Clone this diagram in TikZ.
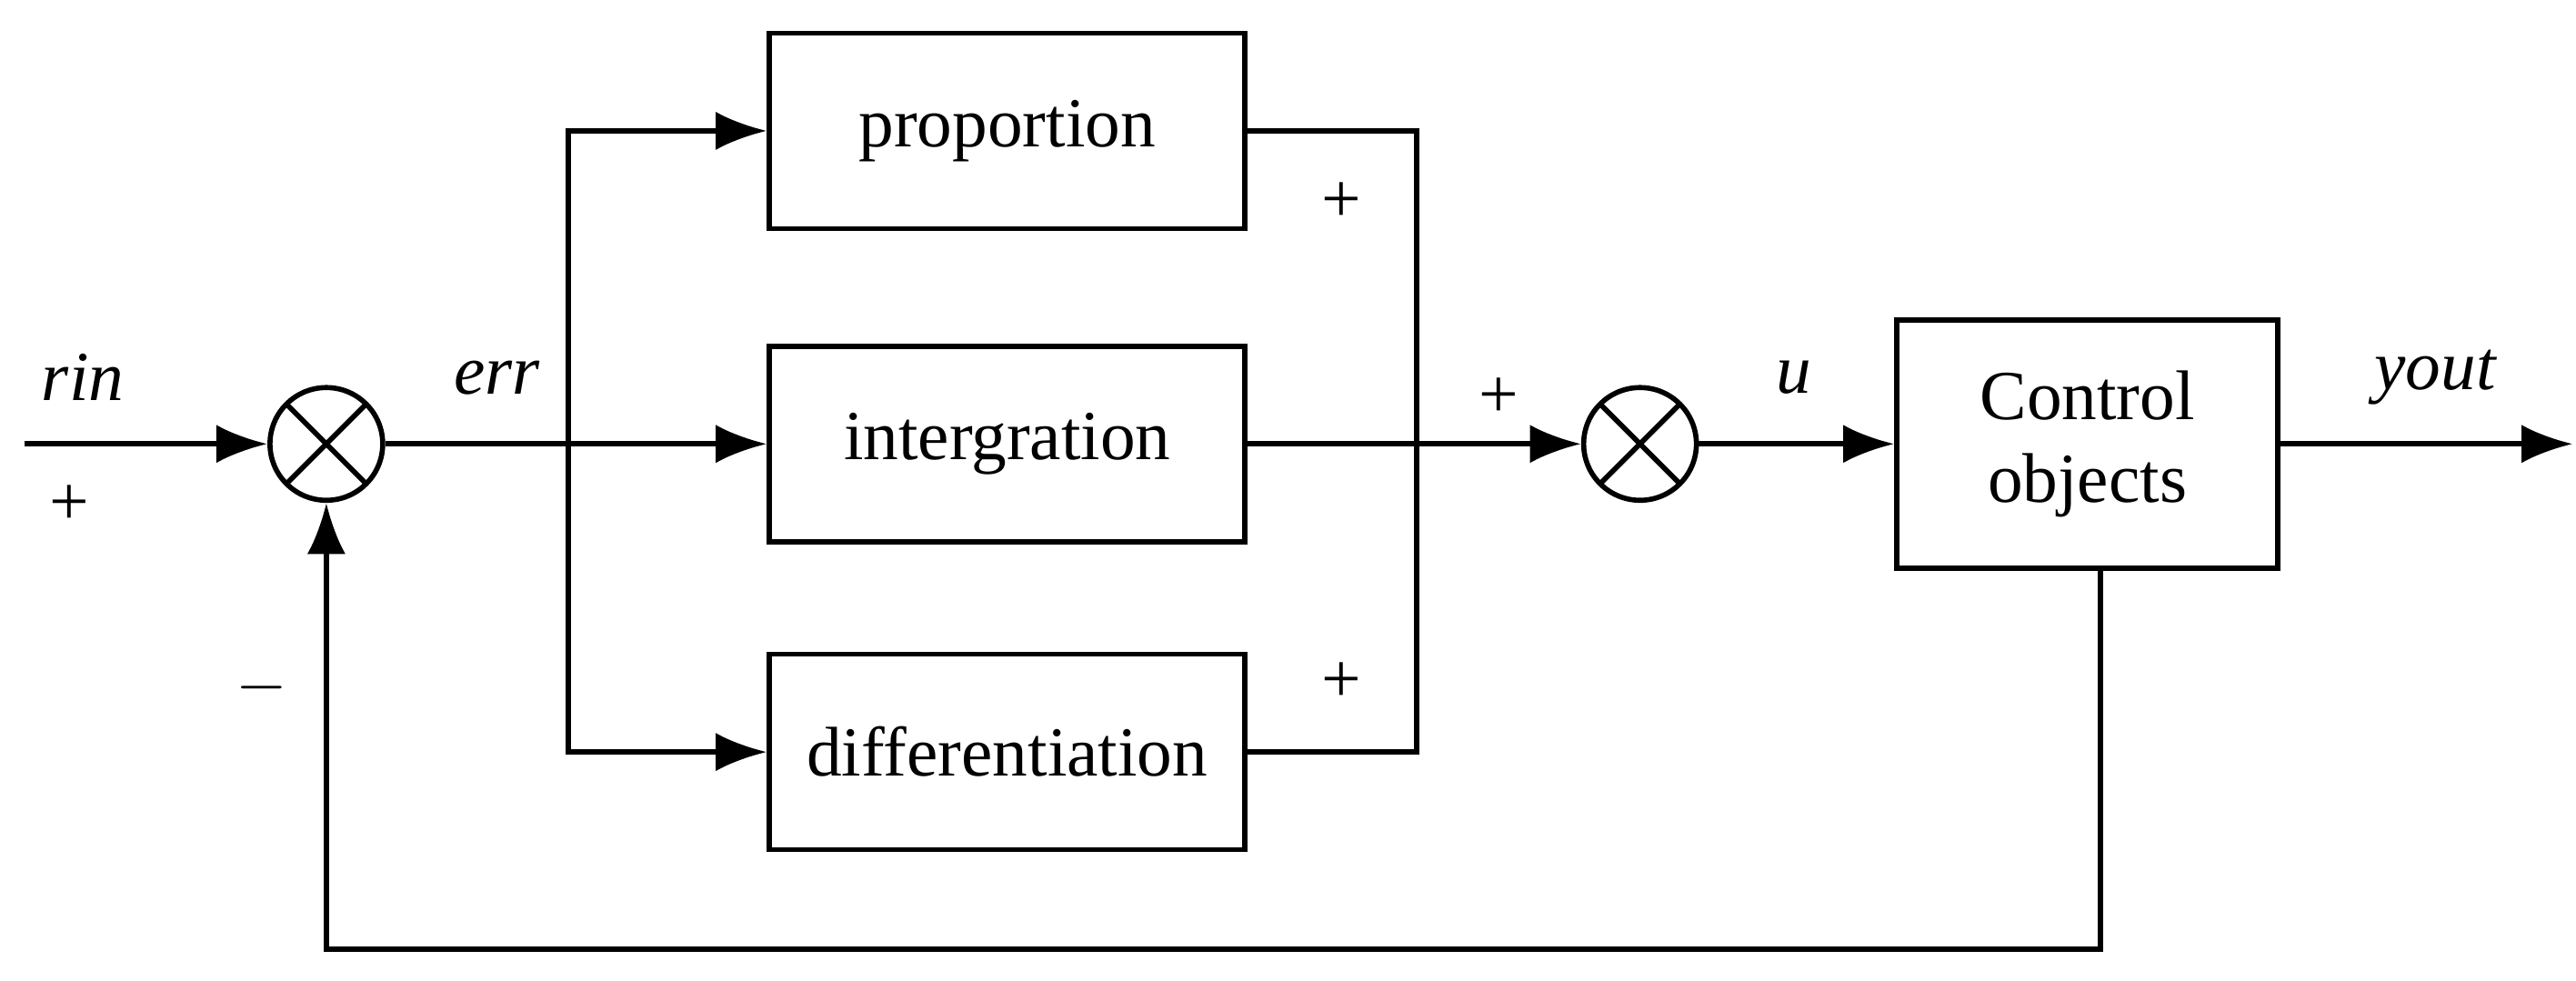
\documentclass[tikz,border=0pt]{standalone}
\usepackage{fontspec}
\setmainfont{Liberation Serif}
\usetikzlibrary{arrows.meta}
\begin{document}
\begin{tikzpicture}[x=0.01822cm,y=-0.01822cm,
  line width=1.6pt, font=\fontsize{22}{26}\selectfont,
  arr/.style={-{Latex[length=16pt,width=12pt]}},
  blk/.style={draw,minimum width=5.23cm,minimum height=2.15cm,inner sep=0pt,align=center},
  sum/.style={draw,circle,minimum size=1.24cm,inner sep=0pt,path picture={
     \draw ([shift={(-45:0.62cm)}]path picture bounding box.center) -- ([shift={(135:0.62cm)}]path picture bounding box.center);
     \draw ([shift={(45:0.62cm)}]path picture bounding box.center) -- ([shift={(-135:0.62cm)}]path picture bounding box.center);}},
  lbl/.style={inner sep=0pt}]
\useasboundingbox (0,0) rectangle (1555,592);
\node[sum] (s1) at (197,268) {};
\node[sum] (s2) at (990,268) {};
\node[blk] (p) at (608,79) {proportion};
\node[blk] (i) at (608,268) {intergration};
\node[blk] (d) at (608,454) {differentiation};
\node[draw,minimum width=4.19cm,minimum height=2.73cm,align=center,inner sep=0pt] (c) at (1260,268) {Control\\objects};
\coordinate (in) at (15,268);
\coordinate (out) at (1553,268);
\coordinate (b) at (343,268);
\coordinate (m) at (855,268);
\coordinate (fb) at (1268,573);
\draw[arr] (in) -- (s1);
\draw (s1) -- (b);
\draw[arr] (b) -- (i);
\draw[arr] (b) |- (p);
\draw[arr] (b) |- (d);
\draw (p.east) -| (m);
\draw (d.east) -| (m);
\draw[arr] (i) -- (s2);
\draw[arr] (s2) -- (c);
\draw[arr] (c) -- (out);
\draw[arr] (c.south -| fb) |- (197,573) -- (s1.south);
\node[lbl] at (50,228) {\itshape rin};
\node[lbl] at (42,305) {+};
\node[lbl] at (300,228) {\itshape err};
\node[lbl] at (810,122) {+};
\node[lbl] at (810,412) {+};
\node[lbl] at (905,240) {+};
\node[lbl] at (1083,228) {\itshape u};
\node[lbl] at (1470,228) {\itshape yout};
\node[lbl] at (158,415) {$-$};
\end{tikzpicture}
\end{document}
